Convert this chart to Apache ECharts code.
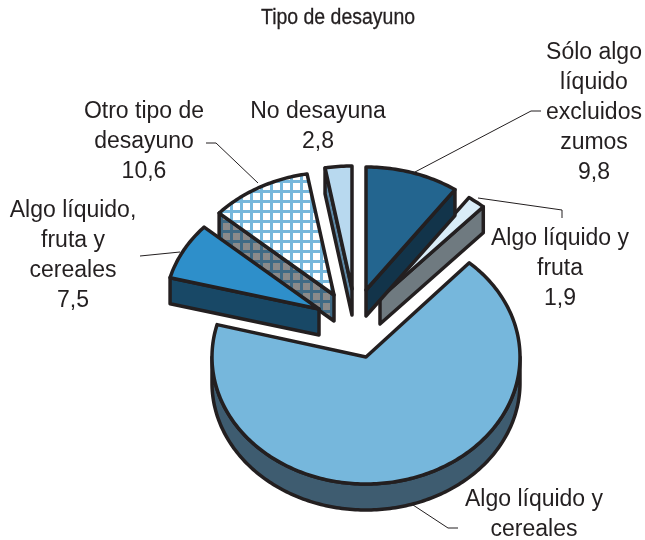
<!DOCTYPE html>
<html><head><meta charset="utf-8">
<style>html,body{margin:0;padding:0;background:#fff}#c{width:645px;height:540px}</style>
<script src="https://cdn.jsdelivr.net/npm/echarts@6/dist/echarts.min.js"></script>
</head><body><div id="c"></div>
<script>
// clockwise from 12 o'clock
const categories = ['Sólo algo líquido excluidos zumos','Algo líquido y fruta','Algo líquido y cereales','Algo líquido, fruta y cereales','Otro tipo de desayuno','No desayuna'];
const values = [9.8, 1.9, 67.4, 7.5, 10.6, 2.8];
const labelLines = [
  ['Sólo algo','líquido','excluidos','zumos','9,8'],
  ['Algo líquido y','fruta','1,9'],
  ['Algo líquido y','cereales'],
  ['Algo líquido,','fruta y','cereales','7,5'],
  ['Otro tipo de','desayuno','10,6'],
  ['No desayuna','2,8']
];
const titleText = 'Tipo de desayuno';
// layout / style, separate from the data
const CENTER=[366,357], RX=154, DEPTH=26;
const radiiY=[123,123,127,123,123,123];
const explode=[[0,-67],[14,-59],[0,0],[-47,-48],[-32,-62],[-14,-68]];
const paintOrder=[2,1,0,5,4,3];
const topColors=['#23658f','#d9ecf7','#76b7dc','#2e8fca',null,'#b8d9ef'];
const wallColors=['#12344a','#6f7a80','#3e5c70','#184866',null,'#5f8aa8'];
const labelPos=[[594,53],[560,239],[534,500],[73,211],[144,112],[318,112]];
const leaders=[
  [[415,172],[531,111],[541,111]],
  [[478,198],[562,210],[562,218]],
  [[413,505],[448,528],[458,528]],
  [[180,252],[140,256]],
  [[258,183],[216,143],[206,143]],
  []
];
function hatch(bg,line){
  const c=document.createElement('canvas');c.width=10;c.height=10;
  const g=c.getContext('2d');g.fillStyle=bg;g.fillRect(0,0,10,10);
  g.fillStyle=line;g.fillRect(0,0,10,3);g.fillRect(0,0,3,10);
  return {image:c,repeat:'repeat'};
}
const topHatch=hatch('#ffffff','#76b7dc'), wallHatch=hatch('#8a8a8a','#3f6a85');
const total=values.reduce((a,b)=>a+b,0);
let acc=0;
const arcs=values.map(v=>{const s=acc;acc+=v;return [
  echarts.number.linearMap(s,[0,total],[0,360]),
  echarts.number.linearMap(acc,[0,total],[0,360])];});
const STROKE={stroke:'#231f20',lineWidth:3.5,lineJoin:'round'};
function renderItem(params,api){
  const i=api.value(0);
  const [a0,a1]=arcs[i], ry=radiiY[i];
  const ax=CENTER[0]+explode[i][0], ay=CENTER[1]+explode[i][1];
  const pt=(deg,d)=>{const r=deg*Math.PI/180;return [ax+RX*Math.sin(r),ay-ry*Math.cos(r)+(d||0)];};
  const arcPts=(s,e,d)=>{const p=[];for(let t=s;t<e;t+=1)p.push(pt(t,d));p.push(pt(e,d));return p;};
  const children=[];
  const poly=(points,fill)=>children.push({type:'polygon',shape:{points},style:Object.assign({fill},STROKE)});
  const wall=wallColors[i]||wallHatch, top=topColors[i]||topHatch;
  const apex=[ax,ay], apexB=[ax,ay+DEPTH];
  const sin=a=>Math.sin(a*Math.PI/180);
  if(sin(a0)<-1e-6) poly([apex,pt(a0),pt(a0,DEPTH),apexB],wall);
  if(sin(a1)>1e-6) poly([apex,pt(a1),pt(a1,DEPTH),apexB],wall);
  const fs=Math.max(a0,90), fe=Math.min(a1,270);
  if(fe>fs) poly(arcPts(fs,fe,0).concat(arcPts(fs,fe,DEPTH).reverse()),wall);
  poly([apex].concat(arcPts(a0,a1,0)),top);
  return {type:'group',children};
}
const textEls=[];
labelLines.forEach((lines,i)=>lines.forEach((t,j)=>textEls.push({
  type:'text',x:labelPos[i][0],y:labelPos[i][1]+j*30,
  style:{text:t,fill:'#231f20',font:'23px "Liberation Sans"',textAlign:'center',textVerticalAlign:'middle'}
})));
textEls.push({type:'text',x:338,y:18,scaleX:0.885,
  style:{text:titleText,fill:'#231f20',stroke:'#231f20',lineWidth:0.3,font:'22px "Liberation Sans"',textAlign:'center',textVerticalAlign:'middle'}});
const lineEls=leaders.filter(l=>l.length).map(points=>({type:'polyline',shape:{points},
  style:{stroke:'#231f20',lineWidth:1,fill:null}}));
const chart=echarts.init(document.getElementById('c'),null,{renderer:'canvas'});
chart.setOption({
  animation:false,
  backgroundColor:'#fff',
  series:[{type:'custom',coordinateSystem:'none',renderItem,
    data:paintOrder.map(i=>({value:[i,values[i]],name:categories[i]})),silent:true,z:2}],
  graphic:{elements:lineEls.concat(textEls)}
});
</script></body></html>
